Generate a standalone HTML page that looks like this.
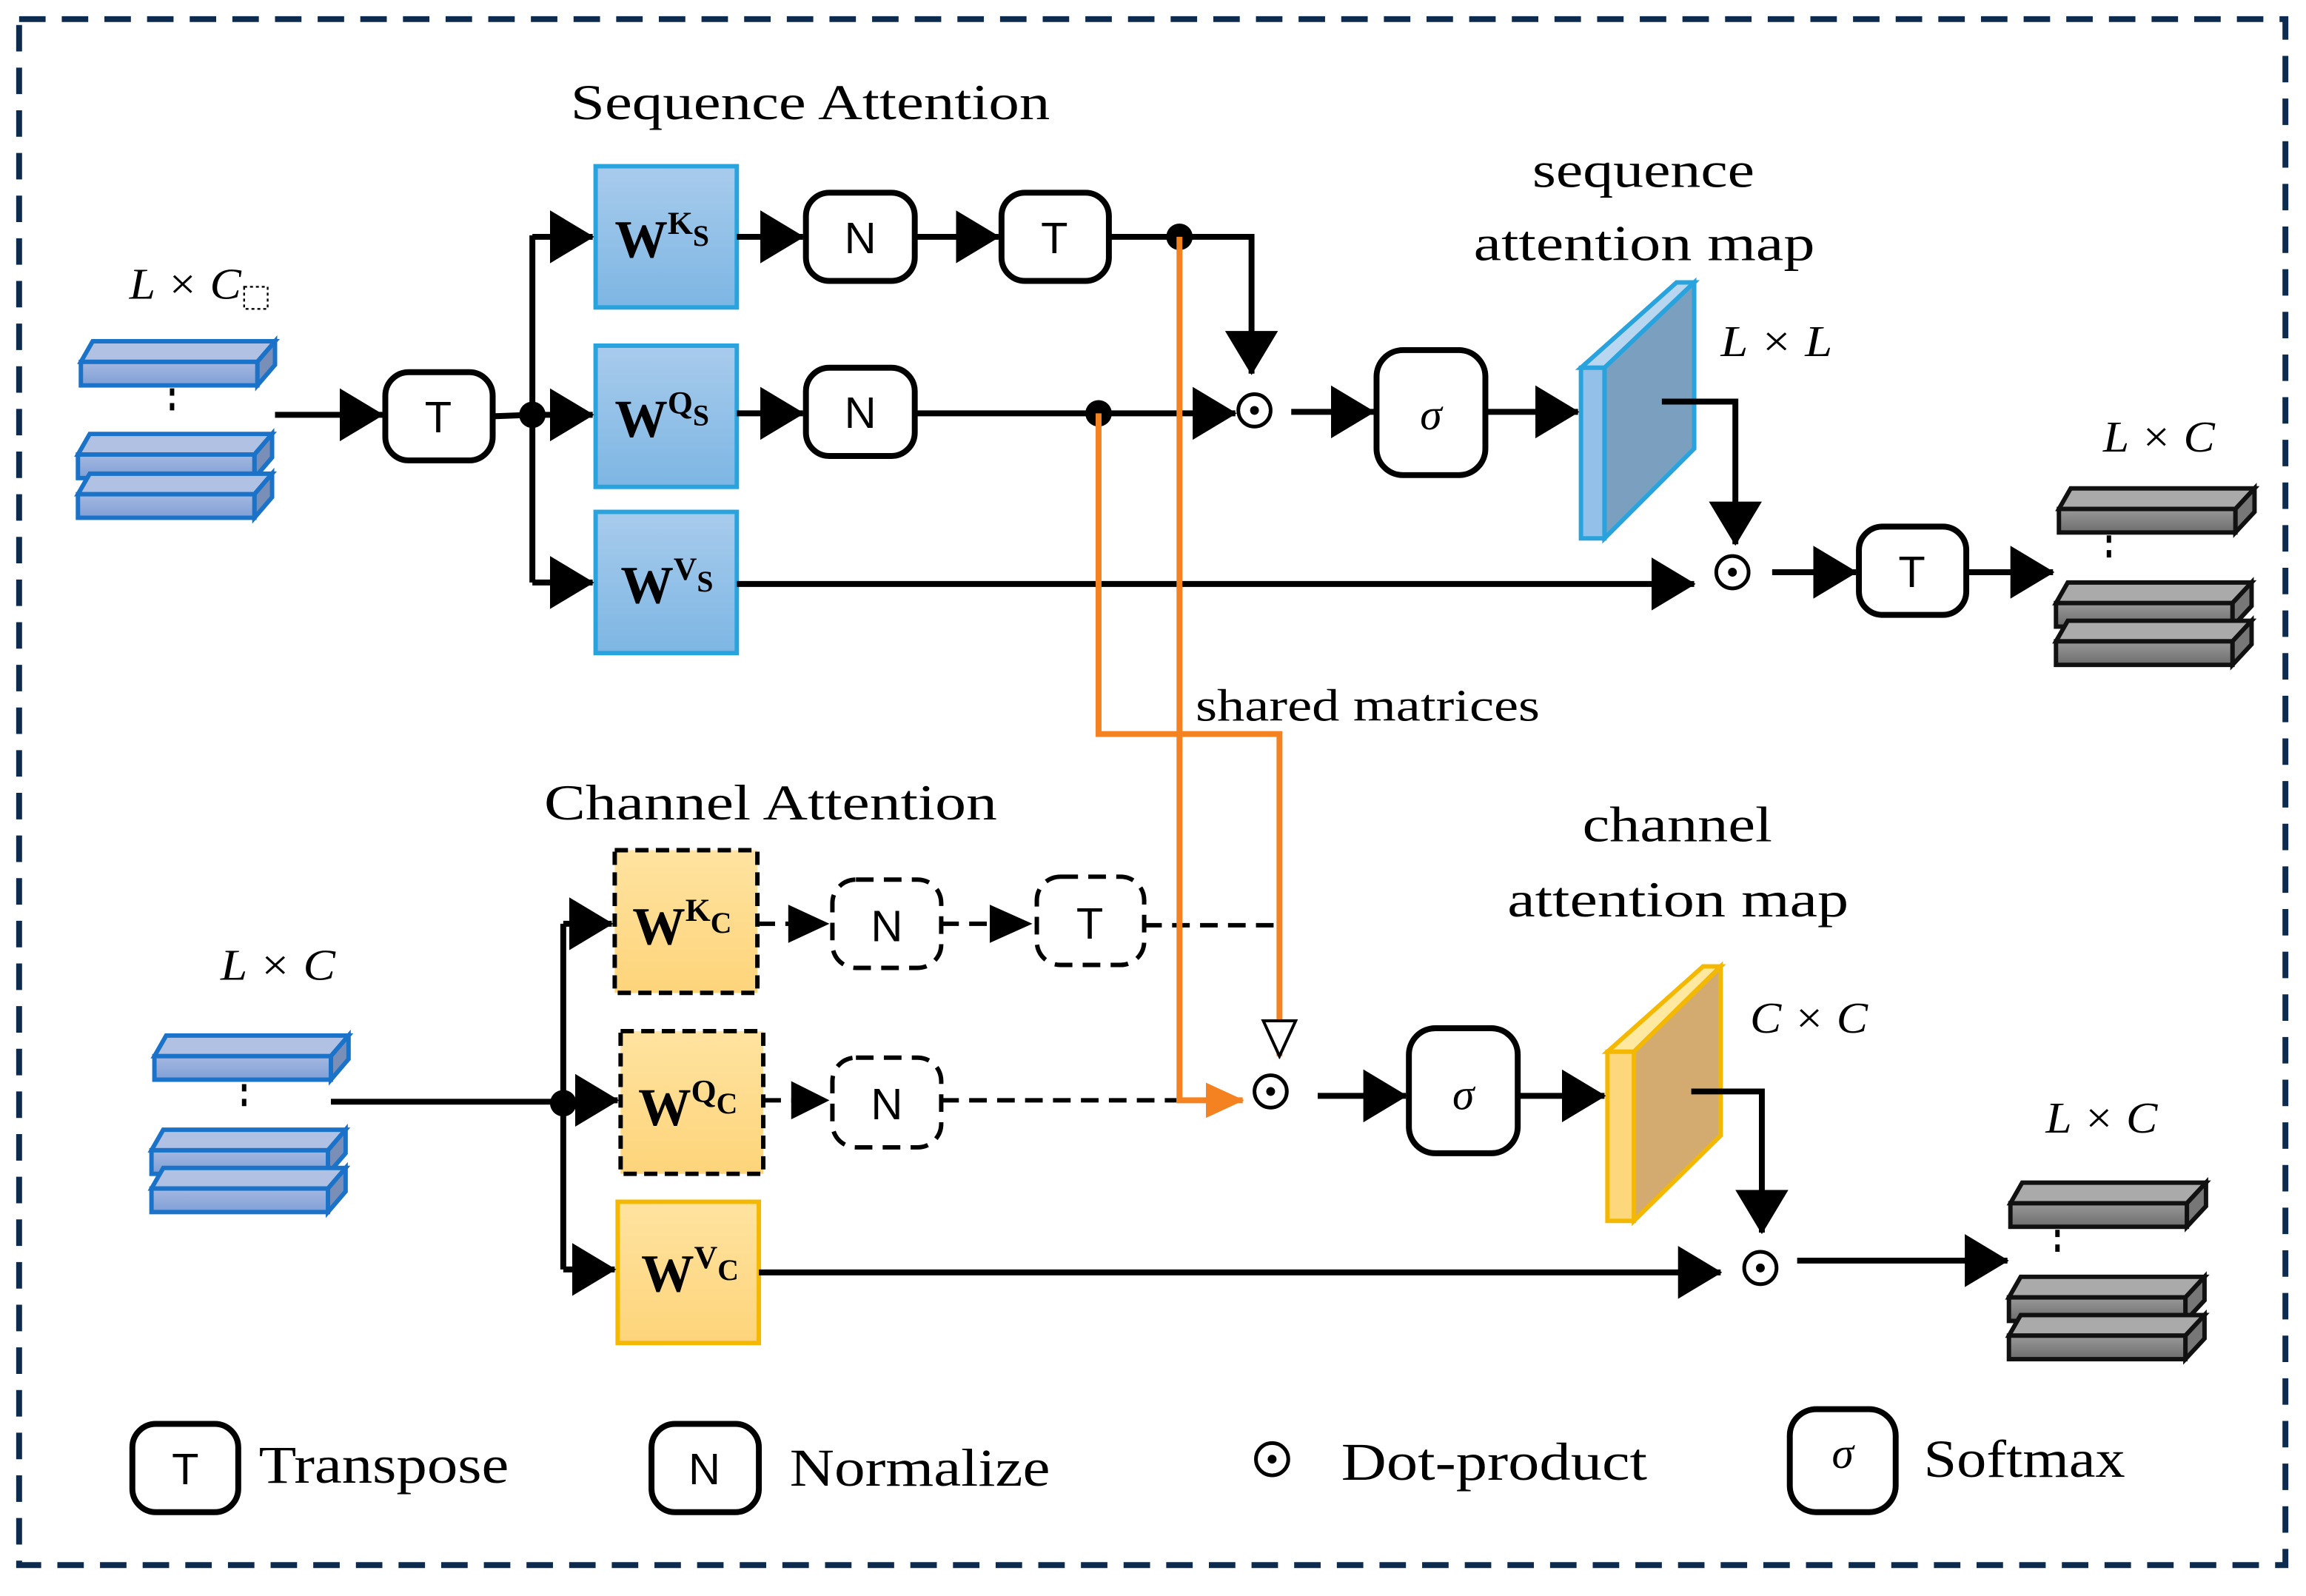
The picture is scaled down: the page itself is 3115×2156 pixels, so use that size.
<!DOCTYPE html>
<html><head><meta charset="utf-8"><style>
html,body{margin:0;padding:0;background:#fff;}
svg{display:block;}
text{font-family:"Liberation Serif",serif;fill:#000;}
.sans{font-family:"Liberation Sans",sans-serif;}
</style></head><body>
<svg width="3115" height="2156" viewBox="0 0 1568 1085" preserveAspectRatio="none" xmlns="http://www.w3.org/2000/svg">
<defs>
<marker id="A" viewBox="0 0 30 36" refX="29" refY="18" markerWidth="30" markerHeight="36" orient="auto" markerUnits="userSpaceOnUse"><path d="M0,0 L30,18 L0,36 z" fill="#000"/></marker>
<marker id="AO" viewBox="0 0 26 24" refX="25" refY="12" markerWidth="26" markerHeight="24" orient="auto" markerUnits="userSpaceOnUse"><path d="M0,0 L26,12 L0,24 z" fill="#f58220"/></marker>
<marker id="AOo" viewBox="0 0 28 26" refX="26" refY="13" markerWidth="28" markerHeight="26" orient="auto" markerUnits="userSpaceOnUse"><path d="M2,2 L26,13 L2,24 z" fill="#fff" stroke="#000" stroke-width="2"/></marker>
<linearGradient id="gb" x1="0" y1="0" x2="0" y2="1"><stop offset="0" stop-color="#a8cbec"/><stop offset="1" stop-color="#7db6e3"/></linearGradient>
<linearGradient id="gy" x1="0" y1="0" x2="0" y2="1"><stop offset="0" stop-color="#ffe3a0"/><stop offset="1" stop-color="#fdd47a"/></linearGradient>
<linearGradient id="bf" x1="0" y1="0" x2="0" y2="1"><stop offset="0" stop-color="#a5b8e0"/><stop offset="1" stop-color="#7f9fd6"/></linearGradient>
<linearGradient id="gf" x1="0" y1="0" x2="0" y2="1"><stop offset="0" stop-color="#999"/><stop offset="1" stop-color="#6d6d6d"/></linearGradient>
</defs>
<rect x="13" y="13" width="1541" height="1051" fill="none" stroke="#0d2a4f" stroke-width="4" stroke-dasharray="18 11"/>

<g stroke="#1a73c8" stroke-width="3">
<g transform="translate(55,246)"><path d="M0,0 L8,-14 L132,-14 L120,0 z" fill="#b0c1e4"/><path d="M120,0 L132,-14 L132,2 L120,16 z" fill="#7a8fb8"/><rect width="120" height="16" fill="url(#bf)"/></g>
<g transform="translate(53,309)"><path d="M0,0 L8,-14 L132,-14 L120,0 z" fill="#b0c1e4"/><path d="M120,0 L132,-14 L132,2 L120,16 z" fill="#7a8fb8"/><rect width="120" height="16" fill="url(#bf)"/></g>
<g transform="translate(53,336)"><path d="M0,0 L8,-14 L132,-14 L120,0 z" fill="#b0c1e4"/><path d="M120,0 L132,-14 L132,2 L120,16 z" fill="#7a8fb8"/><rect width="120" height="16" fill="url(#bf)"/></g>
<g transform="translate(105,718)"><path d="M0,0 L8,-14 L132,-14 L120,0 z" fill="#b0c1e4"/><path d="M120,0 L132,-14 L132,2 L120,16 z" fill="#7a8fb8"/><rect width="120" height="16" fill="url(#bf)"/></g>
<g transform="translate(103,782)"><path d="M0,0 L8,-14 L132,-14 L120,0 z" fill="#b0c1e4"/><path d="M120,0 L132,-14 L132,2 L120,16 z" fill="#7a8fb8"/><rect width="120" height="16" fill="url(#bf)"/></g>
<g transform="translate(103,808)"><path d="M0,0 L8,-14 L132,-14 L120,0 z" fill="#b0c1e4"/><path d="M120,0 L132,-14 L132,2 L120,16 z" fill="#7a8fb8"/><rect width="120" height="16" fill="url(#bf)"/></g>
</g>
<g stroke="#111" stroke-width="3">
<g transform="translate(1400,346)"><path d="M0,0 L8,-14 L133,-14 L120,0 z" fill="#aaa"/><path d="M120,0 L133,-14 L133,2 L120,16 z" fill="#777"/><rect width="120" height="16" fill="url(#gf)"/></g>
<g transform="translate(1398,410)"><path d="M0,0 L8,-14 L133,-14 L120,0 z" fill="#aaa"/><path d="M120,0 L133,-14 L133,2 L120,16 z" fill="#777"/><rect width="120" height="16" fill="url(#gf)"/></g>
<g transform="translate(1398,436)"><path d="M0,0 L8,-14 L133,-14 L120,0 z" fill="#aaa"/><path d="M120,0 L133,-14 L133,2 L120,16 z" fill="#777"/><rect width="120" height="16" fill="url(#gf)"/></g>
<g transform="translate(1367,818)"><path d="M0,0 L8,-14 L133,-14 L120,0 z" fill="#aaa"/><path d="M120,0 L133,-14 L133,2 L120,16 z" fill="#777"/><rect width="120" height="16" fill="url(#gf)"/></g>
<g transform="translate(1366,882)"><path d="M0,0 L8,-14 L133,-14 L120,0 z" fill="#aaa"/><path d="M120,0 L133,-14 L133,2 L120,16 z" fill="#777"/><rect width="120" height="16" fill="url(#gf)"/></g>
<g transform="translate(1366,908)"><path d="M0,0 L8,-14 L133,-14 L120,0 z" fill="#aaa"/><path d="M120,0 L133,-14 L133,2 L120,16 z" fill="#777"/><rect width="120" height="16" fill="url(#gf)"/></g>
</g>
<g stroke="#000" stroke-width="3" stroke-dasharray="5 5">
<line x1="117" y1="264" x2="117" y2="282"/><line x1="166" y1="737" x2="166" y2="755"/>
<line x1="1434" y1="364" x2="1434" y2="382"/><line x1="1399" y1="836" x2="1399" y2="854"/>
</g>

<g stroke="#29a3dd" stroke-width="3" fill="url(#gb)">
<rect x="405" y="113" width="96" height="96"/><rect x="405" y="235" width="96" height="96"/><rect x="405" y="348" width="96" height="96"/>
</g>
<g stroke="#000" stroke-width="3" stroke-dasharray="9 5" fill="url(#gy)">
<rect x="418" y="578" width="97" height="97"/><rect x="422" y="701" width="97" height="97"/>
</g>
<rect x="420" y="817" width="96" height="96" fill="url(#gy)" stroke="#f5b800" stroke-width="3"/>
<g font-weight="bold">
<text x="418" y="175" font-size="36">W<tspan font-size="22" dy="-16">K</tspan><tspan font-size="20" dy="8">S</tspan></text>
<text x="418" y="297" font-size="36">W<tspan font-size="22" dy="-16">Q</tspan><tspan font-size="20" dy="8">S</tspan></text>
<text x="422" y="410" font-size="36">W<tspan font-size="22" dy="-16">V</tspan><tspan font-size="20" dy="8">S</tspan></text>
<text x="430" y="642" font-size="36">W<tspan font-size="22" dy="-16">K</tspan><tspan font-size="20" dy="8">C</tspan></text>
<text x="434" y="765" font-size="36">W<tspan font-size="22" dy="-16">Q</tspan><tspan font-size="20" dy="8">C</tspan></text>
<text x="436" y="878" font-size="36">W<tspan font-size="22" dy="-16">V</tspan><tspan font-size="20" dy="8">C</tspan></text>
</g>

<g fill="#fff" stroke="#000" stroke-width="4">
<rect x="262" y="253" width="73" height="60" rx="16"/>
<rect x="548" y="131" width="74" height="60" rx="16"/>
<rect x="681" y="131" width="73" height="60" rx="16"/>
<rect x="548" y="250" width="74" height="60" rx="16"/>
<rect x="936" y="238" width="74" height="85" rx="18"/>
<rect x="1264" y="358" width="73" height="60" rx="16"/>
<rect x="958" y="699" width="74" height="85" rx="18"/>
<rect x="90" y="968" width="72" height="60" rx="16"/>
<rect x="443" y="968" width="73" height="60" rx="16"/>
<rect x="1217" y="958" width="72" height="70" rx="18"/>
</g>
<g fill="#fff" stroke="#000" stroke-width="3" stroke-dasharray="12 7">
<rect x="566" y="598" width="74" height="60" rx="16"/>
<rect x="705" y="596" width="73" height="60" rx="16"/>
<rect x="566" y="719" width="74" height="61" rx="16"/>
</g>
<g class="sans" font-size="30" text-anchor="middle">
<text class="sans" x="298" y="294">T</text><text class="sans" x="585" y="172">N</text><text class="sans" x="717" y="172">T</text>
<text class="sans" x="585" y="291">N</text><text class="sans" x="1300" y="399">T</text>
<text class="sans" x="603" y="640">N</text><text class="sans" x="741" y="638">T</text><text class="sans" x="603" y="761">N</text>
<text class="sans" x="126" y="1009">T</text><text class="sans" x="479" y="1009">N</text>
</g>
<g font-style="italic" font-size="30" text-anchor="middle">
<text x="973" y="292">σ</text><text x="995" y="754">σ</text><text x="1253" y="998">σ</text>
</g>

<path d="M1075,250 L1140,192 L1152,192 L1091,250 z" fill="#b9d6f0" stroke="#29a3dd" stroke-width="3"/>
<path d="M1091,250 L1152,192 L1152,305 L1091,366 z" fill="#7a9fbf" stroke="#29a3dd" stroke-width="3"/>
<rect x="1075" y="250" width="16" height="116" fill="#93c0e8" stroke="#29a3dd" stroke-width="3"/>
<path d="M1093,715 L1158,657 L1170,657 L1111,715 z" fill="#ffe8a0" stroke="#f5b800" stroke-width="3"/>
<path d="M1111,715 L1170,657 L1170,772 L1111,830 z" fill="#d3ab70" stroke="#f5b800" stroke-width="3"/>
<rect x="1093" y="715" width="18" height="115" fill="#fdd77c" stroke="#f5b800" stroke-width="3"/>

<g stroke="#000" stroke-width="4" fill="none">
<line x1="187" y1="282" x2="260" y2="282" marker-end="url(#A)"/>
<line x1="335" y1="283" x2="362" y2="282"/>
<line x1="362" y1="160" x2="362" y2="396"/>
<line x1="362" y1="161" x2="403" y2="161" marker-end="url(#A)"/>
<line x1="362" y1="282" x2="403" y2="282" marker-end="url(#A)"/>
<line x1="362" y1="396" x2="403" y2="396" marker-end="url(#A)"/>
<line x1="501" y1="161" x2="546" y2="161" marker-end="url(#A)"/>
<line x1="622" y1="161" x2="679" y2="161" marker-end="url(#A)"/>
<polyline points="754,161 851,161 851,254" marker-end="url(#A)"/>
<line x1="501" y1="281" x2="546" y2="281" marker-end="url(#A)"/>
<line x1="622" y1="281" x2="840" y2="281" marker-end="url(#A)"/>
<line x1="878" y1="280" x2="934" y2="280" marker-end="url(#A)"/>
<line x1="1010" y1="280" x2="1073" y2="280" marker-end="url(#A)"/>
<polyline points="1130,273 1180,273 1180,370" marker-end="url(#A)"/>
<line x1="501" y1="397" x2="1152" y2="397" marker-end="url(#A)"/>
<line x1="1205" y1="389" x2="1262" y2="389" marker-end="url(#A)"/>
<line x1="1337" y1="389" x2="1396" y2="389" marker-end="url(#A)"/>
<line x1="225" y1="749" x2="383" y2="749"/>
<line x1="383" y1="628" x2="383" y2="863"/>
<line x1="383" y1="628" x2="416" y2="628" marker-end="url(#A)"/>
<line x1="383" y1="748" x2="420" y2="748" marker-end="url(#A)"/>
<line x1="383" y1="863" x2="418" y2="863" marker-end="url(#A)"/>
<line x1="896" y1="745" x2="956" y2="745" marker-end="url(#A)"/>
<line x1="1032" y1="745" x2="1091" y2="745" marker-end="url(#A)"/>
<polyline points="1150,742 1198,742 1198,838" marker-end="url(#A)"/>
<line x1="516" y1="865" x2="1170" y2="865" marker-end="url(#A)"/>
<line x1="1222" y1="857" x2="1365" y2="857" marker-end="url(#A)"/>
</g>
<g stroke="#000" stroke-width="3" fill="none" stroke-dasharray="12 7">
<line x1="515" y1="628" x2="538" y2="628"/>
<line x1="640" y1="628" x2="675" y2="628"/>
<line x1="778" y1="629" x2="870" y2="629"/>
<line x1="519" y1="748" x2="540" y2="748"/>
<line x1="640" y1="748" x2="800" y2="748"/>
</g>
<g fill="#000">
<path d="M536,615 L564,628 L536,641 z"/><path d="M673,615 L702,628 L673,641 z"/><path d="M538,735 L564,748 L538,761 z"/>
<circle cx="362" cy="282" r="9"/><circle cx="802" cy="161" r="9"/><circle cx="747" cy="281" r="9"/><circle cx="383" cy="750" r="9"/>
</g>
<g stroke="#f58220" stroke-width="4" fill="none">
<polyline points="802,161 802,748 845,748" marker-end="url(#AO)"/>
<polyline points="747,281 747,499 870,499 870,718" marker-end="url(#AOo)"/>
</g>
<g fill="none" stroke="#000" stroke-width="2.5">
<circle cx="853" cy="279" r="11"/><circle cx="1178" cy="389" r="11"/><circle cx="864" cy="742" r="11"/><circle cx="1197" cy="862" r="11"/><circle cx="865" cy="992" r="11"/>
</g>
<g fill="#000"><circle cx="853" cy="279" r="3"/><circle cx="1178" cy="389" r="3"/><circle cx="864" cy="742" r="3"/><circle cx="1197" cy="862" r="3"/><circle cx="865" cy="992" r="3"/></g>

<g font-size="34" lengthAdjust="spacingAndGlyphs">
<text x="388" y="81" textLength="326" lengthAdjust="spacingAndGlyphs">Sequence Attention</text>
<text x="1042" y="127" textLength="151" lengthAdjust="spacingAndGlyphs">sequence</text>
<text x="1002" y="177" textLength="232" lengthAdjust="spacingAndGlyphs">attention map</text>
<text x="813" y="490" font-size="31" textLength="234" lengthAdjust="spacingAndGlyphs">shared matrices</text>
<text x="370" y="557" textLength="308" lengthAdjust="spacingAndGlyphs">Channel Attention</text>
<text x="1076" y="572" textLength="129" lengthAdjust="spacingAndGlyphs">channel</text>
<text x="1025" y="623" textLength="232" lengthAdjust="spacingAndGlyphs">attention map</text>
<text x="176" y="1008" font-size="36" textLength="170" lengthAdjust="spacingAndGlyphs">Transpose</text>
<text x="537" y="1010" font-size="36" textLength="177" lengthAdjust="spacingAndGlyphs">Normalize</text>
<text x="912" y="1006" font-size="36" textLength="208" lengthAdjust="spacingAndGlyphs">Dot-product</text>
<text x="1308" y="1004" font-size="36" textLength="137" lengthAdjust="spacingAndGlyphs">Softmax</text>
</g>
<g font-size="30" font-style="italic">
<text x="88" y="203" textLength="76" lengthAdjust="spacingAndGlyphs">L × C</text>
<text x="1170" y="242" textLength="76" lengthAdjust="spacingAndGlyphs">L × L</text>
<text x="1430" y="307" textLength="76" lengthAdjust="spacingAndGlyphs">L × C</text>
<text x="150" y="666" textLength="78" lengthAdjust="spacingAndGlyphs">L × C</text>
<text x="1190" y="702" textLength="80" lengthAdjust="spacingAndGlyphs">C × C</text>
<text x="1391" y="770" textLength="76" lengthAdjust="spacingAndGlyphs">L × C</text>
</g>
<rect x="166" y="195" width="16" height="15" fill="none" stroke="#000" stroke-width="1.2" stroke-dasharray="2 2"/>
</svg>
</body></html>
